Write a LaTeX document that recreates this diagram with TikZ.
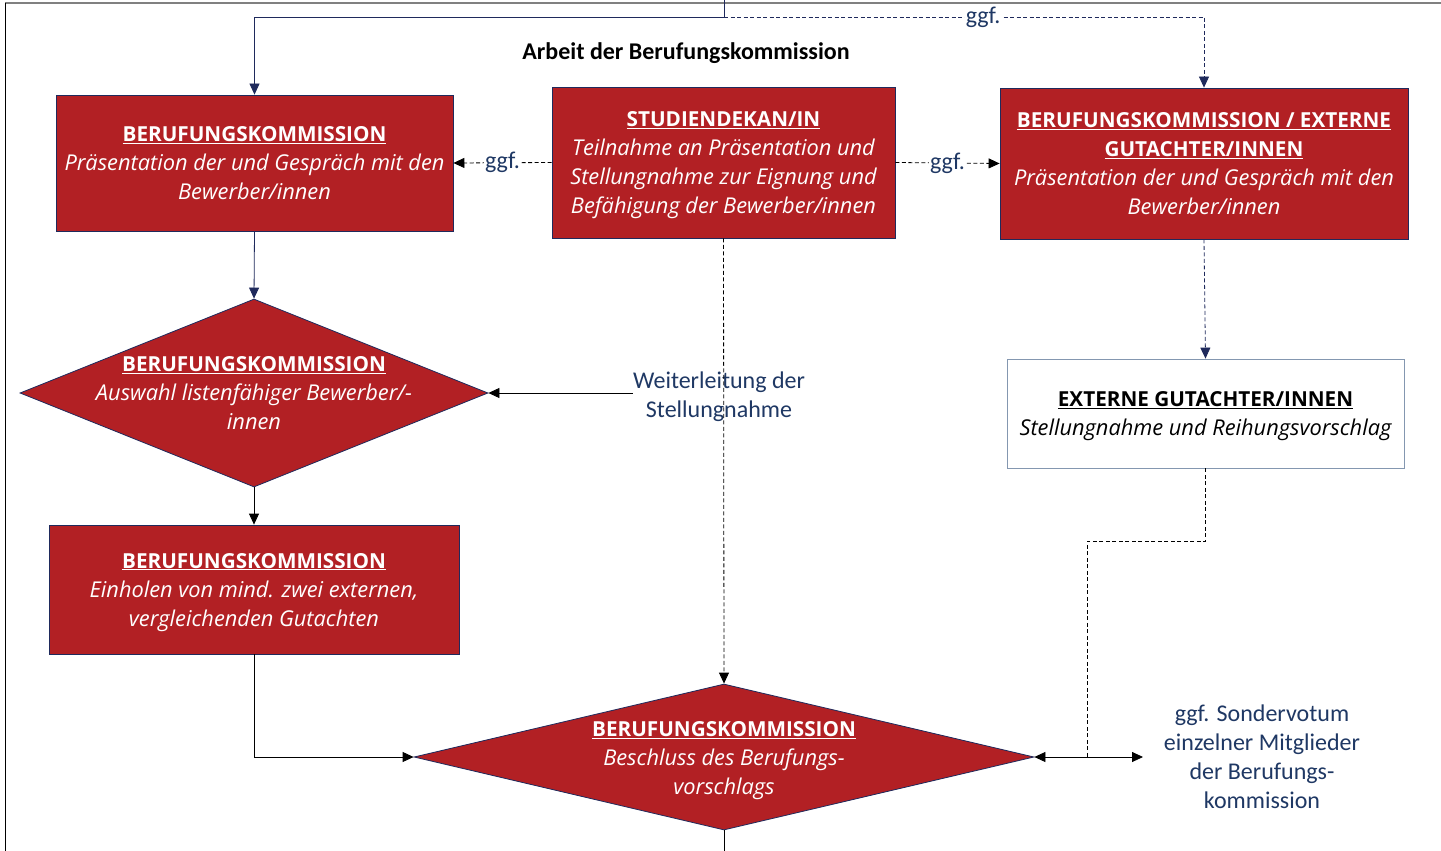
\documentclass[tikz,border=0pt]{standalone}
\usepackage{fontspec}
\setmainfont{Carlito}
\newfontfamily\osf{Open Sans}
\usetikzlibrary{arrows.meta,shapes.geometric}
\definecolor{bred}{RGB}{178,32,36}
\definecolor{navy}{RGB}{31,42,92}
\definecolor{tblue}{RGB}{31,56,100}
\definecolor{gbord}{RGB}{132,151,176}
\newcommand\hd[1]{{\upshape\bfseries\fontsize{20.7}{29}\selectfont\underline{#1}}}
\begin{document}
\begin{tikzpicture}[x=1pt,y=-1pt,
  boxtext/.style={align=center, font=\osf\itshape\fontsize{21.8}{29}\selectfont},
  redbox/.style={boxtext, draw=navy, fill=bred, line width=0.8pt, text=white, inner sep=0pt},
  dia/.style={diamond, draw=navy, fill=bred, line width=0.8pt, inner sep=0pt},
  diatext/.style={boxtext, text=white, inner sep=0pt},
  arr/.style={-{Triangle[length=11pt,width=10pt]}, line width=0.8pt},
  darr/.style={{Triangle[length=11pt,width=10pt]}-{Triangle[length=11pt,width=10pt]}, line width=0.8pt},
  dsh/.style={dash pattern=on 4pt off 2.5pt},
  ggf/.style={font=\fontsize{24}{28}\selectfont, text=tblue, fill=white, inner sep=1pt},
  lbl/.style={font=\fontsize{24}{29}\selectfont, text=tblue, align=center, inner sep=0pt}]
\useasboundingbox (0,0) rectangle (1441,851);
\fill[white] (0,0) rectangle (1441,851);
% frame
\draw[gray, line width=2pt] (5,3) -- (1441,3);
\draw[black, line width=1pt] (5,3) -- (5,851);

\node[font=\bfseries\fontsize{24}{28}\selectfont] (title) at (686,53) {Arbeit der Berufungskommission};

% boxes
\node[redbox, minimum width=397pt, minimum height=136pt] (bk1) at (254.5,163)
  {\hd{BERUFUNGSKOMMISSION}\\Präsentation der und Gespräch mit den\\Bewerber/innen};
\node[redbox, minimum width=343pt, minimum height=151pt, text depth=0pt] (ds) at (723.5,162.5)
  {\hd{STUDIENDEKAN/IN}\\Teilnahme an Präsentation und\\Stellungnahme zur Eignung und\\Befähigung der Bewerber/innen};
\node[redbox, minimum width=408pt, minimum height=151pt] (bk2) at (1204,163.5)
  {\hd{BERUFUNGSKOMMISSION / EXTERNE}\\\hd{GUTACHTER/INNEN}\\Präsentation der und Gespräch mit den\\Bewerber/innen};
\node[boxtext, draw=gbord, fill=white, line width=0.8pt, inner sep=0pt, text depth=0pt, minimum width=397pt, minimum height=109pt] (ext) at (1205.5,413.5)
  {\hd{EXTERNE GUTACHTER/INNEN}\\Stellungnahme und Reihungsvorschlag};
\node[redbox, minimum width=410pt, minimum height=129pt, text depth=0pt] (bk3) at (254,589.5)
  {\hd{BERUFUNGSKOMMISSION}\\Einholen von mind. zwei externen,\\vergleichenden Gutachten};

% diamonds
\node[dia, minimum width=468pt, minimum height=188pt] (d1) at (254,393) {};
\node[diatext] (d1t) at (d1.center) {\hd{BERUFUNGSKOMMISSION}\\Auswahl listenfähiger Bewerber/-\\innen};
\node[dia, minimum width=620pt, minimum height=146pt] (d2) at (724,757) {};
\node[diatext, yshift=-4pt] (d2t) at (d2.center) {\hd{BERUFUNGSKOMMISSION}\\Beschluss des Berufungs-\\vorschlags};

% labels
\node[lbl] (wl) at (719,396.5) {Weiterleitung der\\Stellungnahme};
\node[lbl] (sv) at (1262,756.5) {ggf. Sondervotum\\einzelner Mitglieder\\der Berufungs-\\kommission};

% coordinates
\coordinate (topin) at (724,0);
\coordinate (tj) at (724,17);
\coordinate (j1) at (1087,757);
\coordinate (svin) at (1143,757);
\coordinate (botout) at (724,851);

% connectors
\draw[navy, line width=0.8pt] (topin) -- (tj);
\draw[navy, arr] (tj) -| (bk1.north);
\draw[navy, arr, dsh] (tj) -| node[ggf, pos=0.27] {ggf.} (bk2.north);
\draw[arr, dsh] (ds.west) -- node[ggf] {ggf.} (bk1.east);
\draw[arr, dsh] (ds.east) -- node[ggf] {ggf.} (bk2.east -| bk2.west);
\draw[navy, arr] (bk1.south) -- (d1.north);
\draw[arr] (d1.south) -- (bk3.north);
\draw[arr] (bk3.south) |- (d2.west);
\draw[arr, dsh] (ds.south) -- (d2.north);
\draw[arr] (d1.east -| wl.west) -- (d1.east);
\draw[navy, arr, dsh] (bk2.south) -- (ext.north);
\draw[dsh, line width=0.8pt] (ext.south) -- ++(0,73) -| (j1);
\draw[darr] (d2.east) -- (svin);
\draw[line width=0.8pt] (d2.south) -- (botout);
\end{tikzpicture}
\end{document}
